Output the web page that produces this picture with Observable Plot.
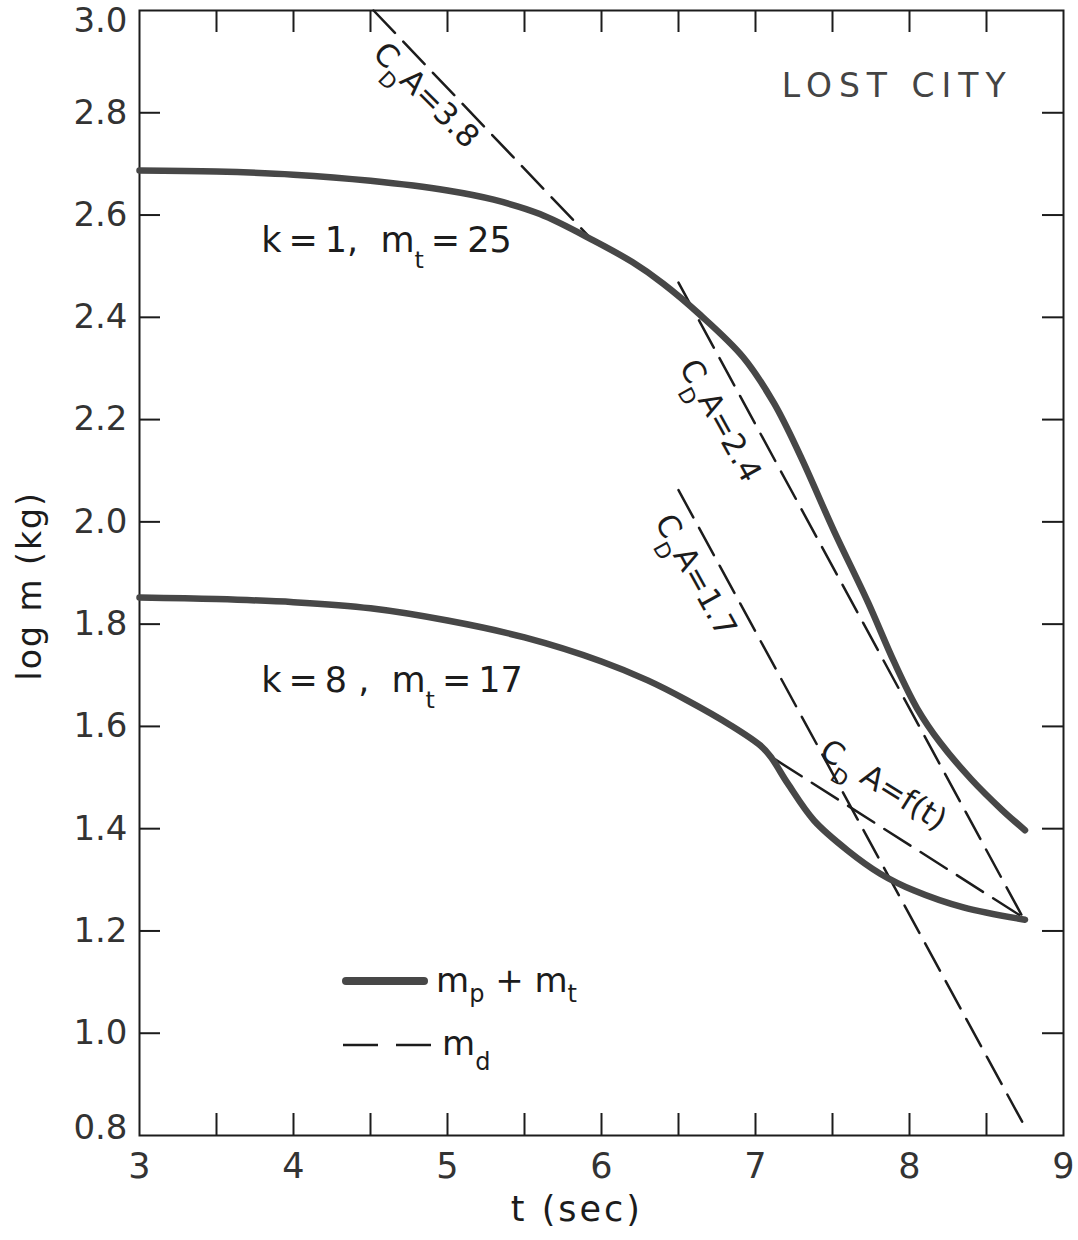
<!DOCTYPE html>
<html>
<head>
<meta charset="utf-8">
<script src="https://cdn.jsdelivr.net/npm/d3@7"></script>
<script src="https://cdn.jsdelivr.net/npm/@observablehq/plot@0.6"></script>
<style>
  html, body { margin: 0; padding: 0; background: #fff; }
  #chart { position: relative; width: 1078px; height: 1240px; }
  #chart svg text { white-space: pre; }
</style>
</head>
<body>
<div id="chart"></div>
<script>
// ---------- data ----------
// solid curve m_p + m_t, k = 1, m_t = 25  (t in sec, log m in kg)
const upperT = [3.0, 3.5, 4.0, 4.5, 5.0, 5.3, 5.6, 5.95, 6.2, 6.4, 6.64, 6.92, 7.12, 7.29, 7.51, 7.73, 7.90, 8.05, 8.2, 8.4, 8.6, 8.75];
const upperM = [2.687, 2.685, 2.679, 2.667, 2.648, 2.630, 2.602, 2.550, 2.508, 2.466, 2.405, 2.322, 2.232, 2.13, 1.982, 1.843, 1.726, 1.635, 1.568, 1.497, 1.437, 1.397];
// solid curve m_p + m_t, k = 8, m_t = 17
const lowerT = [3.0, 3.5, 4.0, 4.5, 5.0, 5.5, 6.0, 6.3, 6.55, 6.84, 7.03, 7.10, 7.21, 7.38, 7.6, 7.81, 8.03, 8.35, 8.75];
const lowerM = [1.852, 1.849, 1.843, 1.831, 1.807, 1.774, 1.727, 1.69, 1.652, 1.602, 1.563, 1.54, 1.488, 1.416, 1.357, 1.312, 1.279, 1.246, 1.222];
// dashed m_d lines (start, end)
const cd38T = [4.52, 5.95],  cd38M = [3.0, 2.548];
const cd24T = [6.50, 8.73],  cd24M = [2.468, 1.23];
const cd17T = [6.50, 8.735], cd17M = [2.062, 0.825];
const cdftT = [7.13, 8.73],  cdftM = [1.535, 1.228];

// axes
const xTickVals = [3.5, 4, 4.5, 5, 5.5, 6, 6.5, 7, 7.5, 8, 8.5];
const yTickVals = [1.0, 1.2, 1.4, 1.6, 1.8, 2.0, 2.2, 2.4, 2.6, 2.8];
const xLabels = [3, 4, 5, 6, 7, 8, 9];
const yLabels = [0.8, 1.0, 1.2, 1.4, 1.6, 1.8, 2.0, 2.2, 2.4, 2.6, 2.8, 3.0];
const xTitle = "t (sec)";
const yTitle = "log m (kg)";
const title = "LOST CITY";
const labelK1 = "k\u2009=\u20091,  m_t\u2009=\u200925";
const labelK8 = "k\u2009=\u20098 ,  m_t\u2009=\u200917";
const label38 = "C_DA=3.8";
const label24 = "C_DA=2.4";
const label17 = "C_DA=1.7";
const labelFt = "C_D A=f(t)";
const legendSolid = ["m", "p", " + m", "t"];
const legendDash = ["m", "d"];

// ---------- build ----------
const FONT = "'DejaVu Sans', 'Liberation Sans', sans-serif";
const INK = "#1c1c1c";
const CURVE = "#474747";
const DASH = "31,12";

const toRows = (T, M, name) => T.map((t, i) => ({t, m: M[i], name}));
const solid = [...toRows(upperT, upperM, "k1"), ...toRows(lowerT, lowerM, "k8")];
const dashed = [
  ...toRows(cd38T, cd38M, "3.8"), ...toRows(cd24T, cd24M, "2.4"),
  ...toRows(cd17T, cd17M, "1.7"), ...toRows(cdftT, cdftM, "ft")
];

const FW = 1063 - 139, FH = 1135 - 10;
const midY = yLabels.slice(1, -1);

const plot = Plot.plot({
  width: 1078, height: 1240,
  marginLeft: 139, marginRight: 15, marginTop: 10, marginBottom: 105,
  x: {domain: [3, 9], axis: null},
  y: {domain: [0.8, 3.0], axis: null},
  style: {fontFamily: FONT, color: INK, background: "#fff", overflow: "visible"},
  marks: [
    // inward ticks on all four sides
    Plot.tickX(xTickVals, {x: d => d, insetTop: FH - 22, stroke: INK, strokeWidth: 2}),
    Plot.tickX(xTickVals, {x: d => d, insetBottom: FH - 22, stroke: INK, strokeWidth: 2}),
    Plot.tickY(yTickVals, {y: d => d, insetRight: FW - 21, stroke: INK, strokeWidth: 2}),
    Plot.tickY(yTickVals, {y: d => d, insetLeft: FW - 21, stroke: INK, strokeWidth: 2}),
    Plot.frame({stroke: INK, strokeWidth: 2}),
    // tick labels
    Plot.text(xLabels, {x: d => d, frameAnchor: "bottom", dy: 18, lineAnchor: "top", textAnchor: "middle", fontSize: 35, text: d => String(d), fill: "#333"}),
    Plot.text(midY, {y: d => d, frameAnchor: "left", dx: -12, textAnchor: "end", lineAnchor: "middle", fontSize: 34, text: d => d.toFixed(1), fill: "#333"}),
    Plot.text(yLabels.slice(0, 1), {y: d => d, frameAnchor: "left", dx: -12, dy: -7, textAnchor: "end", lineAnchor: "middle", fontSize: 34, text: d => d.toFixed(1), fill: "#333"}),
    Plot.text(yLabels.slice(-1), {y: d => d, frameAnchor: "left", dx: -12, dy: 11, textAnchor: "end", lineAnchor: "middle", fontSize: 34, text: d => d.toFixed(1), fill: "#333"}),
    // axis titles
    Plot.text([xTitle], {x: () => 5.84, frameAnchor: "bottom", dy: 74, textAnchor: "middle", lineAnchor: "middle", fontSize: 35, fill: INK}),
    Plot.text([yTitle], {y: () => 1.875, frameAnchor: "left", dx: -109, rotate: -90, textAnchor: "middle", lineAnchor: "middle", fontSize: 33, fill: INK}),
    // curves
    Plot.line(dashed, {x: "t", y: "m", z: "name", stroke: INK, strokeWidth: 2.5, strokeDasharray: DASH}),
    Plot.line(solid, {x: "t", y: "m", z: "name", stroke: CURVE, strokeWidth: 6.5, curve: "catmull-rom", strokeLinecap: "round"}),
    // annotations
    Plot.text([title], {x: () => 7.92, y: () => 2.83, lineAnchor: "bottom", textAnchor: "middle", fontSize: 33, fill: "#444"}),
    Plot.text([labelK1], {x: () => 3.79, y: () => 2.527, lineAnchor: "bottom", textAnchor: "start", fontSize: 35, fill: INK}),
    Plot.text([labelK8], {x: () => 3.79, y: () => 1.667, lineAnchor: "bottom", textAnchor: "start", fontSize: 35, fill: INK}),
    Plot.text([label38], {x: () => 4.86, y: () => 2.834, rotate: 45, textAnchor: "middle", fontSize: 31, fill: INK}),
    Plot.text([label24], {x: () => 6.77, y: () => 2.198, rotate: 61, textAnchor: "middle", fontSize: 31, fill: INK}),
    Plot.text([label17], {x: () => 6.61, y: () => 1.895, rotate: 61, textAnchor: "middle", fontSize: 31, fill: INK}),
    Plot.text([labelFt], {x: () => 7.83, y: () => 1.485, rotate: 32, textAnchor: "middle", fontSize: 31, fill: INK})
  ]
});

const svgns = "http://www.w3.org/2000/svg";
const root = d3.select(plot);

// letter spacing to match the wide hand lettering
root.selectAll("text").filter(function() { return this.textContent === title; }).attr("letter-spacing", 7);
root.selectAll("text").filter(function() { return this.textContent === xTitle; }).attr("letter-spacing", 3);
root.selectAll("text").filter(function() { return this.textContent === yTitle; }).attr("letter-spacing", 2);

// legend (inside the frame, lower left)
const lg = root.append("g").attr("font-family", FONT).attr("fill", INK).attr("text-anchor", "start");
lg.append("line").attr("x1", 346).attr("x2", 424).attr("y1", 981).attr("y2", 981)
  .attr("stroke", CURVE).attr("stroke-width", 8).attr("stroke-linecap", "round");
lg.append("line").attr("x1", 343).attr("x2", 433).attr("y1", 1045).attr("y2", 1045)
  .attr("stroke", INK).attr("stroke-width", 2.5).attr("stroke-dasharray", "35,18");
function legendText(parts, x, y, shift) {
  const t = lg.append("text").attr("x", x).attr("y", y).attr("font-size", 34);
  parts.forEach((p, i) => {
    const ts = t.append("tspan").text(p);
    if (i % 2 === 1) ts.attr("dy", shift).attr("font-size", 24);
    else if (i > 0) ts.attr("dy", -shift);
  });
}
legendText(legendSolid, 436, 992, 10);
legendText(legendDash, 442, 1055, 15);

// turn "_x" into a subscript x
function addSubscripts(node) {
  node.querySelectorAll("text").forEach(el => {
    const s = el.textContent;
    if (!s.includes("_")) return;
    const holder = el.closest("[font-size]");
    const fs = parseFloat(el.getAttribute("font-size") || (holder && holder.getAttribute("font-size"))) || 32;
    const parts = s.split(/_(.)/);
    el.textContent = "";
    parts.forEach((p, i) => {
      if (!p) return;
      const ts = document.createElementNS(svgns, "tspan");
      ts.textContent = p;
      if (i % 2 === 1) {
        ts.setAttribute("dy", (fs * 0.45).toFixed(1));
        ts.setAttribute("font-size", (fs * 0.68).toFixed(1));
      } else if (i > 0) {
        ts.setAttribute("dy", (-fs * 0.45).toFixed(1));
      }
      el.appendChild(ts);
    });
  });
}
addSubscripts(plot);
document.getElementById("chart").appendChild(plot);
</script>
</body>
</html>
